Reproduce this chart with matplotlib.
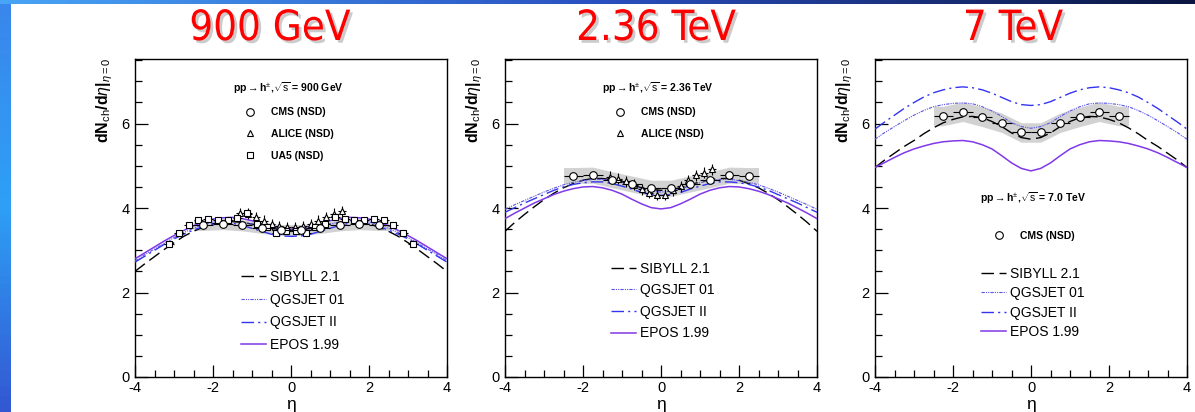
import numpy as np
import matplotlib.pyplot as plt
import matplotlib.patheffects as pe
from matplotlib.colors import LinearSegmentedColormap
from matplotlib.lines import Line2D
from matplotlib.ticker import MultipleLocator

plt.rcParams['font.family'] = ['Liberation Sans', 'DejaVu Sans']
plt.rcParams['mathtext.fontset'] = 'custom'
plt.rcParams['mathtext.rm'] = 'Liberation Sans'
plt.rcParams['mathtext.it'] = 'Liberation Sans:italic'
plt.rcParams['mathtext.bf'] = 'Liberation Sans:bold'
plt.rcParams['axes.unicode_minus'] = False

# ---- data ----
titles = ['900 GeV', '2.36 TeV', '7 TeV']
energies = ['900 GeV', '2.36 TeV', '7.0 TeV']

# model curves, read every 0.25 in eta
eta_mod = [-4, -3.75, -3.5, -3.25, -3, -2.75, -2.5, -2.25, -2, -1.75, -1.5, -1.25, -1, -0.75, -0.5, -0.25, 0,
           0.25, 0.5, 0.75, 1, 1.25, 1.5, 1.75, 2, 2.25, 2.5, 2.75, 3, 3.25, 3.5, 3.75, 4]

sib_900 = [2.50, 2.68, 2.85, 3.02, 3.18, 3.33, 3.45, 3.55, 3.63, 3.67, 3.68, 3.66, 3.62, 3.57, 3.52, 3.49, 3.48,
           3.49, 3.52, 3.57, 3.62, 3.66, 3.68, 3.67, 3.63, 3.55, 3.45, 3.33, 3.18, 3.02, 2.85, 2.68, 2.50]
q01_900 = [2.75, 2.90, 3.03, 3.17, 3.30, 3.42, 3.52, 3.61, 3.67, 3.70, 3.70, 3.67, 3.62, 3.56, 3.50, 3.46, 3.45,
           3.46, 3.50, 3.56, 3.62, 3.67, 3.70, 3.70, 3.67, 3.61, 3.52, 3.42, 3.30, 3.17, 3.03, 2.90, 2.75]
q2_900 = [2.72, 2.86, 3.00, 3.14, 3.27, 3.38, 3.48, 3.56, 3.62, 3.65, 3.64, 3.59, 3.52, 3.45, 3.38, 3.34, 3.33,
          3.34, 3.38, 3.45, 3.52, 3.59, 3.64, 3.65, 3.62, 3.56, 3.48, 3.38, 3.27, 3.14, 3.00, 2.86, 2.72]
epos_900 = [2.80, 2.94, 3.08, 3.22, 3.35, 3.47, 3.58, 3.67, 3.74, 3.77, 3.78, 3.75, 3.70, 3.63, 3.57, 3.52, 3.50,
            3.52, 3.57, 3.63, 3.70, 3.75, 3.78, 3.77, 3.74, 3.67, 3.58, 3.47, 3.35, 3.22, 3.08, 2.94, 2.80]

sib_236 = [3.45, 3.66, 3.85, 4.03, 4.20, 4.35, 4.48, 4.58, 4.66, 4.70, 4.70, 4.67, 4.62, 4.55, 4.48, 4.44, 4.42,
           4.44, 4.48, 4.55, 4.62, 4.67, 4.70, 4.70, 4.66, 4.58, 4.48, 4.35, 4.20, 4.03, 3.85, 3.66, 3.45]
q01_236 = [3.97, 4.08, 4.18, 4.28, 4.38, 4.47, 4.55, 4.61, 4.65, 4.68, 4.68, 4.65, 4.60, 4.53, 4.45, 4.40, 4.38,
           4.40, 4.45, 4.53, 4.60, 4.65, 4.68, 4.68, 4.65, 4.61, 4.55, 4.47, 4.38, 4.28, 4.18, 4.08, 3.97]
q2_236 = [3.90, 4.01, 4.12, 4.22, 4.32, 4.42, 4.50, 4.56, 4.60, 4.62, 4.62, 4.58, 4.52, 4.45, 4.37, 4.32, 4.30,
          4.32, 4.37, 4.45, 4.52, 4.58, 4.62, 4.62, 4.60, 4.56, 4.50, 4.42, 4.32, 4.22, 4.12, 4.01, 3.90]
epos_236 = [3.75, 3.88, 4.00, 4.12, 4.22, 4.32, 4.40, 4.46, 4.50, 4.51, 4.48, 4.42, 4.33, 4.21, 4.10, 4.01, 3.98,
            4.01, 4.10, 4.21, 4.33, 4.42, 4.48, 4.51, 4.50, 4.46, 4.40, 4.32, 4.22, 4.12, 4.00, 3.88, 3.75]

sib_7 = [4.96, 5.14, 5.30, 5.46, 5.60, 5.76, 5.90, 6.02, 6.10, 6.16, 6.17, 6.14, 6.05, 5.93, 5.78, 5.67, 5.63,
         5.67, 5.78, 5.93, 6.05, 6.14, 6.17, 6.16, 6.10, 6.02, 5.90, 5.76, 5.60, 5.46, 5.30, 5.14, 4.96]
q01_7 = [5.63, 5.79, 5.93, 6.07, 6.20, 6.31, 6.40, 6.45, 6.48, 6.49, 6.47, 6.40, 6.30, 6.17, 6.02, 5.93, 5.89,
         5.93, 6.02, 6.17, 6.30, 6.40, 6.47, 6.49, 6.48, 6.45, 6.40, 6.31, 6.20, 6.07, 5.93, 5.79, 5.63]
q2_7 = [5.87, 6.04, 6.20, 6.36, 6.50, 6.63, 6.73, 6.80, 6.85, 6.87, 6.85, 6.80, 6.72, 6.62, 6.52, 6.45, 6.43,
        6.45, 6.52, 6.62, 6.72, 6.80, 6.85, 6.87, 6.85, 6.80, 6.73, 6.63, 6.50, 6.36, 6.20, 6.04, 5.87]
epos_7 = [4.96, 5.08, 5.20, 5.31, 5.40, 5.47, 5.53, 5.57, 5.59, 5.60, 5.57, 5.50, 5.40, 5.24, 5.07, 4.94, 4.88,
          4.94, 5.07, 5.24, 5.40, 5.50, 5.57, 5.60, 5.59, 5.57, 5.53, 5.47, 5.40, 5.31, 5.20, 5.08, 4.96]

# CMS (NSD)
cms_eta = [-2.25, -1.75, -1.25, -0.75, -0.25, 0.25, 0.75, 1.25, 1.75, 2.25]
cms_900 = [3.60, 3.62, 3.59, 3.53, 3.48, 3.48, 3.53, 3.59, 3.62, 3.60]
cms_236 = [4.77, 4.78, 4.67, 4.57, 4.47, 4.47, 4.57, 4.67, 4.78, 4.77]
cms_7 = [6.18, 6.28, 6.16, 6.02, 5.79, 5.79, 6.02, 6.16, 6.28, 6.18]
cms_sys = [0.13, 0.19, 0.23]

# ALICE (NSD)
alice_eta = [-1.3, -1.1, -0.9, -0.7, -0.5, -0.3, -0.1, 0.1, 0.3, 0.5, 0.7, 0.9, 1.1, 1.3]
alice_900 = [3.88, 3.86, 3.78, 3.70, 3.62, 3.57, 3.55, 3.55, 3.57, 3.62, 3.70, 3.78, 3.86, 3.93]
alice_236 = [4.74, 4.70, 4.64, 4.55, 4.44, 4.36, 4.32, 4.32, 4.42, 4.52, 4.66, 4.78, 4.84, 4.92]

# UA5 (NSD)
ua5_eta = [-3.125, -2.875, -2.625, -2.375, -2.125, -1.875, -1.625, -1.375, -1.125, -0.875, -0.625, -0.375, -0.125,
           0.125, 0.375, 0.625, 0.875, 1.125, 1.375, 1.625, 1.875, 2.125, 2.375, 2.625, 2.875, 3.125]
ua5_900 = [3.15, 3.42, 3.60, 3.72, 3.74, 3.72, 3.72, 3.76, 3.88, 3.62, 3.55, 3.42, 3.45,
           3.45, 3.42, 3.55, 3.62, 3.80, 3.75, 3.72, 3.72, 3.74, 3.72, 3.60, 3.42, 3.15]

models = [[sib_900, q01_900, q2_900, epos_900],
          [sib_236, q01_236, q2_236, epos_236],
          [sib_7, q01_7, q2_7, epos_7]]
model_names = ['SIBYLL 2.1', 'QGSJET 01', 'QGSJET II', 'EPOS 1.99']
cms_vals = [cms_900, cms_236, cms_7]
alice_vals = [alice_900, alice_236, None]
ua5_vals = [ua5_900, None, None]

# ---- styles ----
mod_style = [dict(color='black', lw=1.0, ls=(0, (9, 4))),
             dict(color='#5b55e6', lw=0.8, ls=(0, (3, 1, 1, 1, 1, 1))),
             dict(color='#3434f0', lw=1.0, ls=(0, (9, 3, 1.5, 3))),
             dict(color='#8038e8', lw=1.1, ls='-')]

W, H = 1195, 412
fig = plt.figure(figsize=(W / 100, H / 100), dpi=100)
fig.patch.set_facecolor('white')

# slide decoration: blue strips on left and top
axl = fig.add_axes([0, 0, 11 / W, 1])
axl.imshow(np.linspace(0, 1, 100).reshape(-1, 1), aspect='auto',
           cmap=LinearSegmentedColormap.from_list('l', ['#3a86ec', '#2ea0f6', '#3358d2']))
axl.axis('off')
axt = fig.add_axes([0, 1 - 4 / H, 1, 4 / H])
axt.imshow(np.linspace(0, 1, 200).reshape(1, -1), aspect='auto',
           cmap=LinearSegmentedColormap.from_list('t', ['#48a4f6', '#2a4fc0', '#0a1540']))
axt.axis('off')

lefts = [135, 505, 875]
title_x = [270, 656, 1013]
data_leg_pos = [(0.49, 0.934), (0.49, 0.934), (0.506, 0.588)]
data_spacing = [1.12, 1.12, 2.4]
mod_leg_pos = [(0.34, 0.336), (0.34, 0.363), (0.34, 0.346)]
mod_spacing = [0.62, 0.55, 0.38]

for i in range(3):
    ax = fig.add_axes([lefts[i] / W, 35 / H, 312 / W, 318 / H])
    lines = []
    for vals, st, name in zip(models[i], mod_style, model_names):
        ln, = ax.plot(eta_mod, vals, label=name, zorder=3, **st)
        lines.append(ln)

    # CMS with systematic band
    cv = np.array(cms_vals[i])
    ce = np.array(cms_eta)
    bx = np.r_[ce[0] - 0.25, ce, ce[-1] + 0.25]
    by = np.r_[cv[0], cv, cv[-1]]
    ax.fill_between(bx, by - cms_sys[i], by + cms_sys[i], color='#d2d2d2', lw=0, zorder=2)
    data_handles = []
    data_labels = []
    ax.errorbar(ce, cv, xerr=0.25, yerr=0.02, fmt='o', mfc='white', mec='black', ms=5.5, mew=0.8,
                ecolor='black', elinewidth=0.8, capsize=0, zorder=6)
    data_handles.append(Line2D([], [], marker='o', ls='none', mfc='white', mec='black', ms=5.5, mew=0.8))
    data_labels.append('CMS (NSD)')
    if alice_vals[i] is not None:
        ax.errorbar(alice_eta, alice_vals[i], xerr=0.1, yerr=0.13, fmt='^', mfc='white', mec='black', ms=5, mew=0.8,
                    ecolor='black', elinewidth=0.8, capsize=0, zorder=5)
        data_handles.append(Line2D([], [], marker='^', ls='none', mfc='white', mec='black', ms=5, mew=0.8))
        data_labels.append('ALICE (NSD)')
    if ua5_vals[i] is not None:
        ax.errorbar(ua5_eta, ua5_vals[i], xerr=0.125, yerr=0.05, fmt='s', mfc='white', mec='black', ms=4.5, mew=0.8,
                    ecolor='black', elinewidth=0.8, capsize=0, zorder=5)
        data_handles.append(Line2D([], [], marker='s', ls='none', mfc='white', mec='black', ms=4.5, mew=0.8))
        data_labels.append('UA5 (NSD)')

    ax.set_xlim(-4, 4)
    ax.set_ylim(0, 7.53)
    ax.xaxis.set_major_locator(MultipleLocator(2))
    ax.xaxis.set_minor_locator(MultipleLocator(0.5))
    ax.yaxis.set_major_locator(MultipleLocator(2))
    ax.yaxis.set_minor_locator(MultipleLocator(0.5))
    ax.tick_params(which='both', direction='in', top=False, right=False, width=0.9, labelsize=10.5)
    ax.tick_params(axis='x', pad=3)
    ax.tick_params(axis='y', pad=4)
    ax.tick_params(which='major', length=9)
    ax.tick_params(which='minor', length=5)
    for s in ax.spines.values():
        s.set_linewidth(1.0)
    ax.set_xlabel('η', fontsize=12.5, labelpad=1)
    ax.text(-0.098, 1.005, r'dN$_{\rm ch}$/d$\eta$|$_{\eta=0}$', transform=ax.transAxes, rotation=90,
            ha='center', va='top', fontsize=11.5, fontweight='bold')

    leg1 = ax.legend(data_handles, data_labels, loc='upper center', bbox_to_anchor=data_leg_pos[i],
                     frameon=False, prop=dict(weight='bold', size=7.5), handlelength=1.5, handletextpad=1.3,
                     labelspacing=data_spacing[i], borderpad=0, borderaxespad=0,
                     title=r'pp$\rightarrow$h$^{\pm}$,$\sqrt{\rm s}$ = ' + energies[i],
                     title_fontproperties=dict(weight='bold', size=7.5))
    ax.add_artist(leg1)
    ax.legend(lines, model_names, loc='upper left', bbox_to_anchor=mod_leg_pos[i], frameon=False,
              fontsize=10, handlelength=1.8, handletextpad=0.3, labelspacing=mod_spacing[i],
              borderpad=0, borderaxespad=0)

    fig.text(title_x[i] / W, 1 - 28 / H, titles[i], ha='center', va='center', color='#ff0000',
             fontsize=30, family='DejaVu Sans', fontstretch='condensed',
             path_effects=[pe.withSimplePatchShadow(offset=(2, -2), shadow_rgbFace='#999999', alpha=0.5)])

fig.savefig('out.png', dpi=100)
